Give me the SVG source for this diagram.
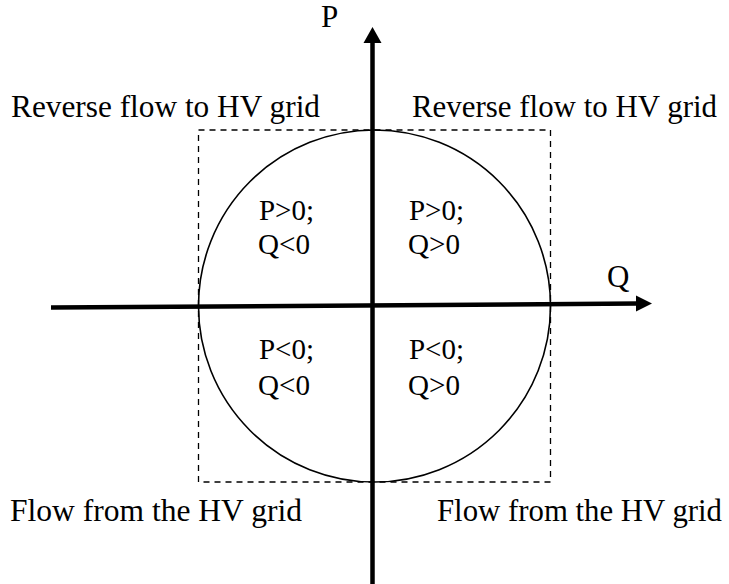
<svg xmlns="http://www.w3.org/2000/svg" width="729" height="584" viewBox="0 0 729 584">
<style>
text{font-family:"Liberation Serif","Times New Roman",serif;fill:#000}
.lbl{font-size:31px}
.q{font-size:29px}
.ax{stroke:#000;stroke-width:4.5;fill:none}
</style>
<rect width="729" height="584" fill="#fff"/>
<g id="region">
<rect x="198.5" y="130" width="352" height="352" fill="none" stroke="#000" stroke-width="1.3" stroke-dasharray="6,5"/>
<circle cx="374.5" cy="306" r="176" fill="none" stroke="#000" stroke-width="1.6"/>
</g>
<g id="connectors">
<line class="ax" x1="372.5" y1="584" x2="372.5" y2="40"/>
<polygon points="372.5,27 363.5,43 381.5,43" fill="#000"/>
<line class="ax" x1="51" y1="307.5" x2="638" y2="303.6"/>
<polygon points="652,303.5 636,295.5 636,311.5" fill="#000"/>
</g>
<g id="axis-labels">
<text class="lbl" x="321" y="27" textLength="19">P</text>
<text class="lbl" x="607" y="287" textLength="23">Q</text>
</g>
<g id="q1"><text class="q" x="409" y="220" textLength="55" lengthAdjust="spacingAndGlyphs">P&gt;0;</text><text class="q" x="408" y="254" textLength="52" lengthAdjust="spacingAndGlyphs">Q&gt;0</text></g>
<g id="q2"><text class="q" x="259" y="220" textLength="55" lengthAdjust="spacingAndGlyphs">P&gt;0;</text><text class="q" x="258" y="254" textLength="52" lengthAdjust="spacingAndGlyphs">Q&lt;0</text></g>
<g id="q3"><text class="q" x="259" y="359" textLength="55" lengthAdjust="spacingAndGlyphs">P&lt;0;</text><text class="q" x="258" y="395" textLength="52" lengthAdjust="spacingAndGlyphs">Q&lt;0</text></g>
<g id="q4"><text class="q" x="409" y="359" textLength="55" lengthAdjust="spacingAndGlyphs">P&lt;0;</text><text class="q" x="408" y="395" textLength="52" lengthAdjust="spacingAndGlyphs">Q&gt;0</text></g>
<g id="top-labels">
<text class="lbl" x="11" y="117" textLength="309" lengthAdjust="spacingAndGlyphs">Reverse flow to HV grid</text>
<text class="lbl" x="412" y="117" textLength="305" lengthAdjust="spacingAndGlyphs">Reverse flow to HV grid</text>
</g>
<g id="bottom-labels">
<text class="lbl" x="10" y="521" textLength="292" lengthAdjust="spacingAndGlyphs">Flow from the HV grid</text>
<text class="lbl" x="437" y="521" textLength="285" lengthAdjust="spacingAndGlyphs">Flow from the HV grid</text>
</g>
</svg>
